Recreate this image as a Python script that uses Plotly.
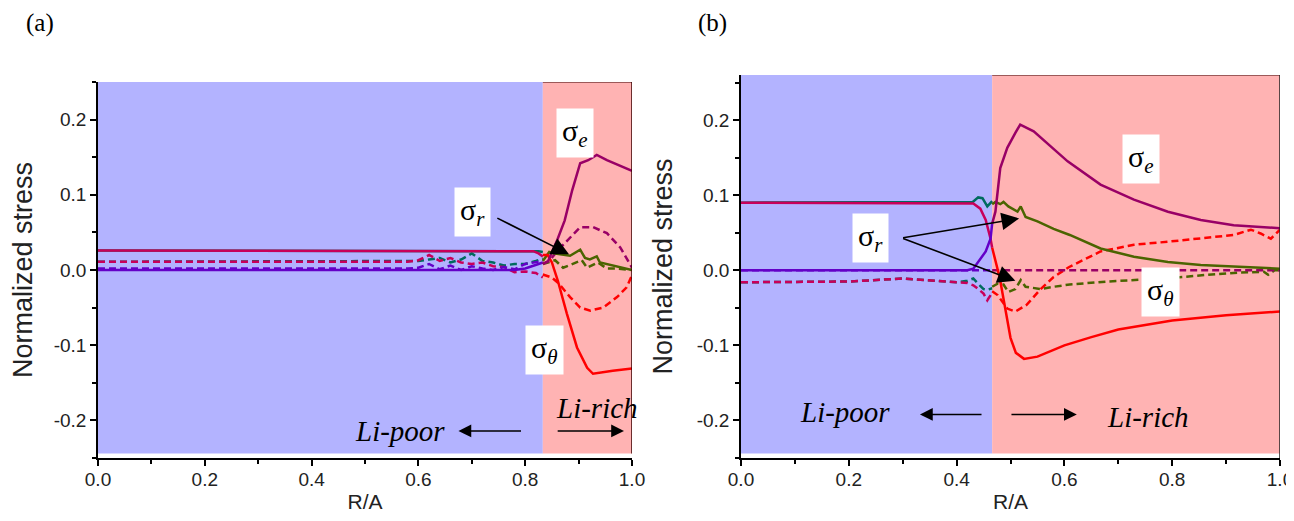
import plotly.graph_objects as go

# ---------------- data: panel (a) ----------------
a_interface = 0.833
# Li-poor region (0 .. interface)
a_poor_x = [0.0, 0.78, 0.80, 0.815, 0.825, 0.833]
a_poor_theta = [0.026, 0.026, 0.026, 0.025, 0.022, 0.018]
a_poor_r = [0.026, 0.026, 0.026, 0.026, 0.025, 0.024]
a_poor_e = [0.0, 0.0, 0.002, 0.005, 0.008, 0.010]

a_poor_dx = [0.0, 0.58, 0.60, 0.62, 0.64, 0.66, 0.68, 0.70, 0.72, 0.74, 0.76, 0.78, 0.80, 0.82, 0.833]
a_poor_dtheta = [0.011, 0.011, 0.013, 0.020, 0.012, 0.016, 0.010, 0.008, 0.010, 0.005, 0.004, -0.003, -0.002, -0.004, -0.010]
a_poor_dr = [0.011, 0.011, 0.012, 0.014, 0.016, 0.010, 0.014, 0.022, 0.012, 0.010, 0.006, 0.008, 0.008, 0.012, 0.015]
a_poor_de = [0.002, 0.002, 0.003, 0.008, 0.001, 0.006, 0.000, 0.005, 0.002, 0.000, 0.004, 0.001, 0.008, 0.010, 0.012]

# Li-rich region (interface .. 1)
a_rich_e_x = [0.833, 0.843, 0.860, 0.874, 0.888, 0.903, 0.918, 0.934, 0.953, 1.0]
a_rich_e = [0.008, 0.012, 0.040, 0.066, 0.106, 0.142, 0.146, 0.153, 0.146, 0.132]
a_rich_t_x = [0.833, 0.842, 0.850, 0.861, 0.878, 0.897, 0.916, 0.927, 0.964, 1.0]
a_rich_t = [0.020, 0.020, 0.010, -0.014, -0.058, -0.103, -0.130, -0.138, -0.134, -0.131]
a_rich_r_x = [0.833, 0.845, 0.856, 0.884, 0.903, 0.912, 0.921, 0.934, 0.94, 0.97, 1.0]
a_rich_r = [0.012, 0.024, 0.022, 0.019, 0.027, 0.016, 0.014, 0.018, 0.010, 0.005, 0.0]

a_rich_de_x = [0.833, 0.845, 0.861, 0.884, 0.903, 0.927, 0.953, 0.978, 1.0]
a_rich_de = [0.008, 0.012, 0.026, 0.043, 0.057, 0.057, 0.049, 0.030, 0.003]
a_rich_dt_x = [0.833, 0.850, 0.863, 0.884, 0.903, 0.922, 0.946, 0.972, 0.990, 1.0]
a_rich_dt = [-0.006, -0.010, -0.018, -0.036, -0.050, -0.054, -0.050, -0.036, -0.023, -0.007]
a_rich_dr_x = [0.833, 0.856, 0.871, 0.906, 0.916, 0.936, 0.953, 0.97, 1.0]
a_rich_dr = [0.008, 0.013, 0.003, 0.013, 0.003, 0.010, 0.002, 0.002, 0.0]

# ---------------- data: panel (b) ----------------
b_interface = 0.466
b_poor_x = [0.0, 0.41, 0.431, 0.444, 0.454, 0.463, 0.466]
b_poor_theta = [0.090, 0.090, 0.089, 0.082, 0.067, 0.042, 0.030]
b_poor_r_x = [0.0, 0.42, 0.43, 0.44, 0.448, 0.457, 0.466]
b_poor_r = [0.090, 0.090, 0.091, 0.097, 0.096, 0.085, 0.092]
b_poor_e_x = [0.0, 0.42, 0.431, 0.454, 0.463, 0.466]
b_poor_e = [0.0, 0.0, 0.002, 0.025, 0.042, 0.062]

b_poor_dx = [0.0, 0.20, 0.30, 0.35, 0.40, 0.42, 0.431, 0.44, 0.45, 0.457, 0.466]
b_poor_dtheta = [-0.016, -0.015, -0.011, -0.013, -0.016, -0.017, -0.020, -0.025, -0.031, -0.040, -0.030]
b_poor_dr = [-0.016, -0.015, -0.011, -0.013, -0.016, -0.014, -0.011, -0.018, -0.025, -0.026, -0.024]
b_poor_de = [0.0, 0.0, 0.0, 0.0, 0.0, 0.0, 0.0, 0.0, 0.0, 0.0, 0.0]

b_rich_e_x = [0.466, 0.472, 0.481, 0.494, 0.509, 0.518, 0.543, 0.606, 0.667, 0.729, 0.792, 0.853, 0.914, 1.0]
b_rich_e = [0.062, 0.078, 0.136, 0.163, 0.183, 0.194, 0.185, 0.145, 0.114, 0.094, 0.078, 0.067, 0.060, 0.056]
b_rich_t_x = [0.466, 0.48, 0.49, 0.50, 0.51, 0.525, 0.55, 0.60, 0.65, 0.70, 0.80, 0.90, 1.0]
b_rich_t = [0.030, -0.010, -0.050, -0.090, -0.110, -0.118, -0.115, -0.100, -0.089, -0.079, -0.067, -0.060, -0.055]
b_rich_r_x = [0.466, 0.472, 0.481, 0.487, 0.496, 0.513, 0.519, 0.528, 0.55, 0.58, 0.61, 0.667, 0.729, 0.792, 0.853, 1.0]
b_rich_r = [0.088, 0.091, 0.088, 0.091, 0.085, 0.078, 0.085, 0.071, 0.065, 0.055, 0.047, 0.029, 0.018, 0.011, 0.007, 0.002]

b_rich_de_x = [0.466, 1.0]
b_rich_de = [0.0, 0.0]
b_rich_dt_x = [0.466, 0.476, 0.494, 0.509, 0.53, 0.556, 0.58, 0.608, 0.667, 0.729, 0.792, 0.853, 0.914, 0.946, 0.964, 0.983, 1.0]
b_rich_dt = [-0.028, -0.033, -0.051, -0.055, -0.046, -0.025, -0.009, 0.004, 0.025, 0.034, 0.038, 0.042, 0.047, 0.054, 0.049, 0.042, 0.054]
b_rich_dr_x = [0.466, 0.476, 0.487, 0.496, 0.509, 0.519, 0.528, 0.556, 0.58, 0.61, 0.68, 0.74, 0.803, 0.866, 0.927, 0.97, 0.978, 0.99, 1.0]
b_rich_dr = [-0.022, -0.018, -0.019, -0.029, -0.025, -0.013, -0.022, -0.025, -0.022, -0.019, -0.015, -0.013, -0.010, -0.006, -0.003, -0.002, -0.006, 0.0, 0.0]

x_ticks = [0.0, 0.2, 0.4, 0.6, 0.8, 1.0]
x_tick_labels = ["0.0", "0.2", "0.4", "0.6", "0.8", "1.0"]
y_ticks = [-0.2, -0.1, 0.0, 0.1, 0.2]
y_tick_labels = ["-0.2", "-0.1", "0.0", "0.1", "0.2"]

# ---------------- styles ----------------
VIOLET = "#6400C8"
MAROON = "#990066"
CRIMSON = "#C8005A"
TEAL = "#006B5E"
OLIVE = "#4B6400"
RED = "#FF0000"
BLUE_BG = "#B3B3FF"
PINK_BG = "#FFB3B3"
DASH = "7px,4px"

fig = go.Figure()


def add(x, y, color, dash, xa, ya):
    fig.add_trace(go.Scatter(x=x, y=y, mode="lines", xaxis=xa, yaxis=ya,
                             line=dict(color=color, width=2.5, dash=dash),
                             showlegend=False, hoverinfo="skip"))


# panel (a)
add(a_poor_dx, a_poor_dr, TEAL, DASH, "x", "y")
add(a_poor_dx, a_poor_dtheta, CRIMSON, DASH, "x", "y")
add(a_poor_dx, a_poor_de, VIOLET, DASH, "x", "y")
add(a_poor_x, a_poor_r, TEAL, "solid", "x", "y")
add(a_poor_x, a_poor_theta, CRIMSON, "solid", "x", "y")
add(a_poor_x, a_poor_e, VIOLET, "solid", "x", "y")
add(a_rich_dr_x, a_rich_dr, OLIVE, DASH, "x", "y")
add(a_rich_dt_x, a_rich_dt, RED, DASH, "x", "y")
add(a_rich_de_x, a_rich_de, MAROON, DASH, "x", "y")
add(a_rich_r_x, a_rich_r, OLIVE, "solid", "x", "y")
add(a_rich_t_x, a_rich_t, RED, "solid", "x", "y")
add(a_rich_e_x, a_rich_e, MAROON, "solid", "x", "y")

# panel (b)
add(b_poor_dx, b_poor_dr, TEAL, DASH, "x2", "y2")
add(b_poor_dx, b_poor_dtheta, CRIMSON, DASH, "x2", "y2")
add(b_poor_dx, b_poor_de, VIOLET, DASH, "x2", "y2")
add(b_poor_r_x, b_poor_r, TEAL, "solid", "x2", "y2")
add(b_poor_x, b_poor_theta, CRIMSON, "solid", "x2", "y2")
add(b_poor_e_x, b_poor_e, VIOLET, "solid", "x2", "y2")
add(b_rich_dr_x, b_rich_dr, OLIVE, DASH, "x2", "y2")
add(b_rich_dt_x, b_rich_dt, RED, DASH, "x2", "y2")
add(b_rich_de_x, b_rich_de, MAROON, DASH, "x2", "y2")
add(b_rich_r_x, b_rich_r, OLIVE, "solid", "x2", "y2")
add(b_rich_t_x, b_rich_t, RED, "solid", "x2", "y2")
add(b_rich_e_x, b_rich_e, MAROON, "solid", "x2", "y2")

# the page body has an 8px margin: the figure is shifted by OFF in both directions
OFF = 8
W, H = 1294 - OFF, 521 - OFF


def px(v):
    return (v - OFF) / W


def py(v):
    return 1 - (v - OFF) / H


dom_a = [px(98), px(632)]
dom_b = [px(741), px(1280)]
dom_ya = [py(458), py(82)]
dom_yb = [py(458), py(75)]
top_a, top_b = 0.25, 0.26

shapes = []
for xr, yr, x0, x1, col, top in [
    ("x", "y", 0.0, a_interface, BLUE_BG, top_a),
    ("x", "y", a_interface, 1.0, PINK_BG, top_a),
    ("x2", "y2", 0.0, b_interface, BLUE_BG, top_b),
    ("x2", "y2", b_interface, 1.0, PINK_BG, top_b),
]:
    shapes.append(dict(type="rect", xref=xr, yref=yr, x0=x0, x1=x1, y0=-0.244, y1=top,
                       fillcolor=col, line=dict(width=0), layer="below"))
# dark frame edges at top/right of the shaded regions
shapes.append(dict(type="line", xref="x", yref="y", x0=1.0, x1=1.0, y0=-0.244, y1=top_a,
                   line=dict(color="#3A0000", width=1.5)))
shapes.append(dict(type="line", xref="x", yref="y", x0=a_interface, x1=1.0, y0=top_a, y1=top_a,
                   line=dict(color="#3A0000", width=1)))
shapes.append(dict(type="line", xref="x2", yref="y2", x0=b_interface, x1=1.0, y0=top_b, y1=top_b,
                   line=dict(color="#3A0000", width=1)))
shapes.append(dict(type="line", xref="x2", yref="y2", x0=1.0, x1=1.0, y0=-0.25, y1=top_b,
                   line=dict(color="#222222", width=1.5)))

SERIF = "Liberation Serif"
SANS = "Liberation Sans"

ann = []


def sigma(xr, yr, x, y, sub):
    ann.append(dict(xref=xr, yref=yr, x=x, y=y, showarrow=False,
                    xanchor="center", yanchor="middle",
                    text="σ<sub><i>%s</i></sub>" % sub,
                    font=dict(family=SERIF, size=30, color="black"),
                    bgcolor="white", borderpad=5))


def arrow(xr, yr, x0, y0, x1, y1, size=1.6, width=1.6):
    ann.append(dict(xref=xr, yref=yr, axref=xr, ayref=yr, x=x1, y=y1, ax=x0, ay=y0,
                    text="", showarrow=True, arrowhead=2, arrowsize=size,
                    arrowwidth=width, arrowcolor="black"))


def label(xr, yr, x, y, txt):
    ann.append(dict(xref=xr, yref=yr, x=x, y=y, showarrow=False,
                    xanchor="center", yanchor="middle",
                    text="<i>%s</i>" % txt,
                    font=dict(family=SERIF, size=29, color="black")))


# panel (a) annotations
sigma("x", "y", 0.893, 0.182, "e")
sigma("x", "y", 0.702, 0.077, "r")
sigma("x", "y", 0.837, -0.107, "θ")
arrow("x", "y", 0.745, 0.070, 0.882, 0.021, size=2.2)
label("x", "y", 0.566, -0.214, "Li-poor")
label("x", "y", 0.935, -0.183, "Li-rich")
arrow("x", "y", 0.795, -0.214, 0.675, -0.214)
arrow("x", "y", 0.858, -0.214, 0.985, -0.214)

# panel (b) annotations
sigma("x2", "y2", 0.742, 0.148, "e")
sigma("x2", "y2", 0.240, 0.043, "r")
sigma("x2", "y2", 0.779, -0.029, "θ")
arrow("x2", "y2", 0.298, 0.043, 0.516, 0.069, size=2.2)
arrow("x2", "y2", 0.298, 0.043, 0.509, -0.014, size=2.2)
label("x2", "y2", 0.193, -0.189, "Li-poor")
label("x2", "y2", 0.755, -0.195, "Li-rich")
arrow("x2", "y2", 0.449, -0.192, 0.332, -0.192)
arrow("x2", "y2", 0.499, -0.192, 0.623, -0.192)

# panel labels
ann.append(dict(xref="paper", yref="paper", x=px(40), y=py(23), showarrow=False,
                xanchor="center", yanchor="middle",
                text="(a)", font=dict(family=SERIF, size=25, color="black")))
ann.append(dict(xref="paper", yref="paper", x=px(712), y=py(23), showarrow=False,
                xanchor="center", yanchor="middle",
                text="(b)", font=dict(family=SERIF, size=25, color="black")))

xaxis_common = dict(range=[0, 1.0], tickmode="array", tickvals=x_ticks, ticktext=x_tick_labels,
                    ticks="outside", ticklen=6, tickwidth=1.5, tickcolor="black",
                    minor=dict(dtick=0.1, ticks="outside", ticklen=4, tickwidth=1.5, tickcolor="black"),
                    showline=True, linecolor="black", linewidth=1.5, showgrid=False, zeroline=False,
                    automargin=False, ticklabelstandoff=-3,
                    tickfont=dict(family=SANS, size=19, color="#222"),
                    title=dict(text="R/A", font=dict(family=SANS, size=21, color="#222"), standoff=6))
yaxis_common = dict(tickmode="array", tickvals=y_ticks, ticktext=y_tick_labels,
                    ticks="outside", ticklen=6, tickwidth=1.5, tickcolor="black",
                    minor=dict(dtick=0.05, tick0=0.0, ticks="outside", ticklen=4, tickwidth=1.5, tickcolor="black"),
                    showline=True, linecolor="black", linewidth=1.5, showgrid=False, zeroline=False,
                    automargin=False,
                    tickfont=dict(family=SANS, size=19, color="#222"),
                    title=dict(text="Normalized stress", font=dict(family=SANS, size=27, color="#222"), standoff=16))

fig.update_layout(
    width=W, height=H,
    margin=dict(l=0, r=0, t=0, b=0),
    paper_bgcolor="white", plot_bgcolor="white",
    xaxis=dict(domain=dom_a, anchor="y", **xaxis_common),
    yaxis=dict(domain=dom_ya, anchor="x", range=[-0.25, top_a], **yaxis_common),
    xaxis2=dict(domain=dom_b, anchor="y2", **xaxis_common),
    yaxis2=dict(domain=dom_yb, anchor="x2", range=[-0.25, top_b], **yaxis_common),
    shapes=shapes,
    annotations=ann,
)

fig.write_html("out.html")
